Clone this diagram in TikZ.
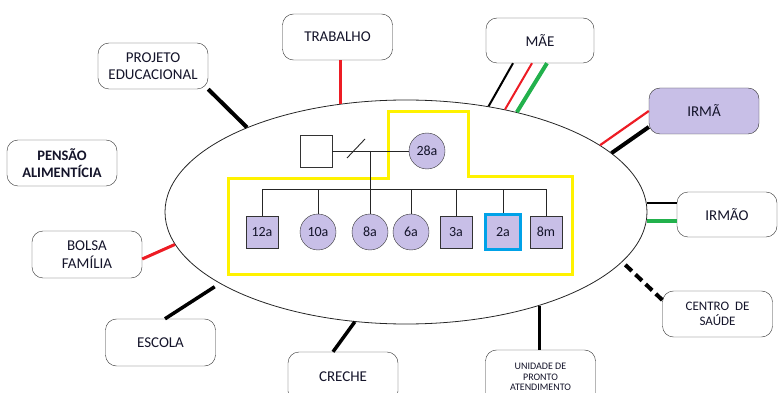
\documentclass[tikz,border=0pt]{standalone}
\usepackage{fontspec}
\setmainfont{Carlito}
\usetikzlibrary{shapes.geometric}
\definecolor{lilas}{HTML}{C8BFE7}
\definecolor{vermelho}{HTML}{ED1C24}
\definecolor{verde}{HTML}{22B14C}
\definecolor{azul}{HTML}{00A2E8}
\definecolor{amarelo}{HTML}{FFF200}
\definecolor{tinta}{HTML}{14142A}

\begin{document}
\begin{tikzpicture}[x=1pt, y=-1pt,
  caixa/.style={rectangle, draw=black!80, fill=white, rounded corners=11pt,
                minimum width=110pt, minimum height=46pt, align=center,
                text=tinta, font=\fontsize{15}{17.5}\selectfont},
  quadrado/.style={rectangle, draw=black!80, fill=lilas, minimum size=32pt,
                   inner sep=0pt, text=tinta, font=\fontsize{14}{16}\selectfont},
  circulo/.style={circle, draw=black!80, fill=lilas, minimum size=36pt,
                  inner sep=0pt, text=tinta, font=\fontsize{14}{16}\selectfont},
  indice/.style={quadrado, draw=azul, line width=3pt, minimum size=35pt},
  fino/.style={black!85, line width=0.9pt},
  laco/.style={black, line width=3.5pt},
  limite/.style={amarelo, line width=3pt}
]
  \useasboundingbox (0,0) rectangle (780,393);

  % Ecomapa
  \node[ellipse, draw=black!85, line width=0.8pt, minimum width=482pt,
        minimum height=224pt, inner sep=0pt] (eco) at (406,212) {};

  % Limite da familia
  \draw[limite] (388,112) -- (468,112) -- (468,177) -- (572,177) -- (572,274)
    -- (228,274) -- (228,179) -- (388,179) -- cycle;

  % Genograma
  \node[quadrado, fill=white] (pai) at (316,151) {};
  \node[circulo] (mulher) at (427,151) {28a};
  \draw[fino] (pai.east) -- (mulher.west);
  \draw[fino] (347,158) -- (365,139);
  \coordinate (casal) at (370,151);
  \coordinate (irmaos) at (370,189);
  \draw[fino] (casal) -- (irmaos);
  \foreach \i/\x/\forma/\idade in {1/262/quadrado/12a, 2/318/circulo/10a,
      3/370/circulo/8a, 4/411/circulo/6a, 5/456/quadrado/3a,
      6/503/indice/2a, 7/546/quadrado/8m} {
    \node[\forma] (f\i) at (\x,232) {\idade};
    \draw[fino] (f\i.north) -- (f\i |- irmaos);
  }
  \draw[fino] (f1 |- irmaos) -- (f7 |- irmaos);

  % Rede externa
  \node[caixa] (projeto) at (153,66) {PROJETO\\EDUCACIONAL};
  \node[caixa] (trabalho) at (337.5,37) {TRABALHO};
  \node[caixa, font=\bfseries\fontsize{14.5}{17}\selectfont] (pensao) at (62,163) {PENSÃO\\ALIMENTÍCIA};
  \node[caixa, minimum width=108pt, minimum height=45pt] (mae) at (540,40.5) {MÃE};
  \node[caixa, fill=lilas] (irma) at (704,111) {IRMÃ};
  \node[caixa, minimum width=100pt, minimum height=45pt] (irmao) at (727,214.5) {IRMÃO};
  \node[caixa, font=\fontsize{13}{14.5}\selectfont] (centro) at (717.5,314) {CENTRO~~DE\\SAÚDE};
  \node[caixa, minimum height=54pt, font=\fontsize{10}{10.5}\selectfont] (upa) at (540.5,377) {UNIDADE DE\\PRONTO\\ATENDIMENTO};
  \node[caixa, minimum height=50pt] (creche) at (343,377) {CRECHE};
  \node[caixa, minimum height=47pt] (escola) at (160.5,342.5) {ESCOLA};
  \node[caixa, minimum height=47pt] (bolsa) at (87,254.5) {BOLSA\\FAMÍLIA};

  % Vinculos
  \draw[laco, line width=4pt] (projeto.south east) -- (eco.152);
  \draw[vermelho, line width=3pt] (trabalho.south -| eco.121) -- (eco.121);
  \draw[black, line width=2pt] ([xshift=-27pt]mae.south) -- (eco.52);
  \draw[vermelho, line width=2pt] ([xshift=-8pt]mae.south) -- (eco.46);
  \draw[verde, line width=4pt] ([xshift=7pt]mae.south) -- (eco.42);
  \draw[vermelho, line width=2.2pt] (irma.west) -- (eco.19);
  \draw[laco, line width=4pt] ([yshift=-16pt]irma.west) -- (eco.16);
  \coordinate (irmaoA) at ([yshift=11.5pt]irmao.west);
  \coordinate (irmaoB) at ([yshift=-6.5pt]irmao.west);
  \draw[black, line width=2.5pt] (irmaoA) -- (irmaoA -| eco.east);
  \draw[verde, line width=3.5pt] (irmaoB) -- (irmaoB -| eco.east);
  \draw[laco, line width=4pt, dash pattern=on 9pt off 5pt] ([yshift=14pt]centro.west) -- (eco.-13);
  \draw[laco] (upa.north -| eco.-35) -- (eco.-35);
  \draw[laco] ([xshift=-10pt]creche.north) -- (eco.245);
  \draw[laco, shorten >=6pt] ([xshift=4.5pt]escola.north) -- (eco.201);
  \draw[vermelho, line width=3pt] ([yshift=-4.5pt]bolsa.east) -- (eco.188);
\end{tikzpicture}
\end{document}
